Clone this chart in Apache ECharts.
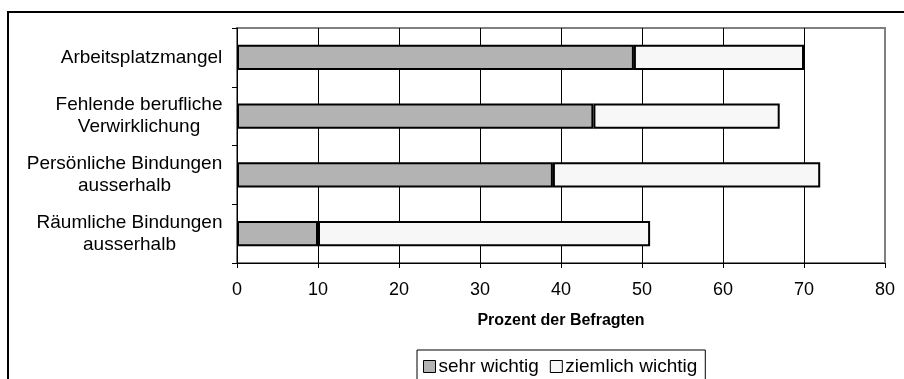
<!DOCTYPE html>
<html>
<head>
<meta charset="utf-8">
<script src="https://cdn.jsdelivr.net/npm/echarts@6/dist/echarts.min.js"></script>
<style>
html,body{margin:0;padding:0;background:#fff;}
#chart{width:904px;height:379px;}
</style>
</head>
<body>
<div id="chart"></div>
<script>
const categories = [
  'Arbeitsplatzmangel',
  'Fehlende berufliche\nVerwirklichung',
  'Persönliche Bindungen\nausserhalb',
  'Räumliche Bindungen\nausserhalb'
];
const sehrWichtig = [49, 44, 39, 10];
const ziemlichWichtig = [21, 23, 33, 41];
const seriesNames = ['sehr wichtig', 'ziemlich wichtig'];
const xMin = 0, xMax = 80, xStep = 10;
const axisTitle = 'Prozent der Befragten';

const FONT = '"Liberation Sans", Arial, sans-serif';
const ctx = document.createElement('canvas').getContext('2d');
ctx.font = '19px ' + FONT;
const rich = {};
categories.forEach((c, i) => {
  const w = Math.max(...c.split('\n').map(l => ctx.measureText(l).width));
  rich['c' + i] = { width: Math.ceil(w) + 1, align: 'center', fontSize: 19, lineHeight: 22, fontFamily: FONT, color: '#000' };
});

const chart = echarts.init(document.getElementById('chart'), null, { renderer: 'canvas' });
const splitColors = [];
for (let v = xMin; v <= xMax; v += xStep) splitColors.push(v === xMax ? '#808080' : '#000');

chart.setOption({
  animation: false,
  backgroundColor: '#fff',
  textStyle: { fontFamily: FONT, color: '#000' },
  graphic: [{
    type: 'rect', silent: true,
    shape: { x: 8, y: 12, width: 1000, height: 1000 },
    style: { fill: 'none', stroke: '#000', lineWidth: 2 }
  }],
  grid: {
    left: 237, top: 28, width: 648, height: 235,
    show: true, borderColor: '#808080', borderWidth: 2, backgroundColor: 'transparent'
  },
  xAxis: {
    type: 'value', min: xMin, max: xMax, interval: xStep,
    name: axisTitle, nameLocation: 'middle', nameGap: 50,
    nameTextStyle: { fontSize: 16, fontWeight: 'bold', color: '#000', fontFamily: FONT },
    axisLine: { show: true, lineStyle: { color: '#000', width: 1 } },
    axisTick: { show: true, length: 5, lineStyle: { color: '#000' } },
    axisLabel: { fontSize: 18, color: '#000', margin: 18, fontFamily: FONT },
    splitLine: { show: true, lineStyle: { color: splitColors, width: 1 } }
  },
  yAxis: {
    type: 'category', data: categories, inverse: true,
    axisLine: { show: true, lineStyle: { color: '#000', width: 1 } },
    axisTick: { show: true, length: 5, inside: false, lineStyle: { color: '#000' } },
    axisLabel: {
      margin: 14, align: 'right', rich: rich,
      formatter: (value, index) => value.split('\n').map(l => '{c' + index + '|' + l + '}').join('\n')
    },
    splitLine: { show: false }
  },
  legend: {
    left: 417, top: 350,
    padding: [7, 8, 30, 6],
    itemGap: 11, itemWidth: 12, itemHeight: 12,
    borderColor: '#000', borderWidth: 1,
    icon: 'rect',
    itemStyle: { borderColor: '#000', borderWidth: 1 },
    textStyle: { fontSize: 19, color: '#000', fontFamily: FONT, padding: [0, 0, 0, -2] },
    data: seriesNames
  },
  series: [
    {
      name: seriesNames[0], type: 'bar', stack: 'total', data: sehrWichtig,
      barWidth: '43%',
      itemStyle: { color: '#b3b3b3', borderColor: '#000', borderWidth: 2 }
    },
    {
      name: seriesNames[1], type: 'bar', stack: 'total', data: ziemlichWichtig,
      barWidth: '43%',
      itemStyle: { color: '#f7f7f7', borderColor: '#000', borderWidth: 2 }
    }
  ]
});
</script>
</body>
</html>
